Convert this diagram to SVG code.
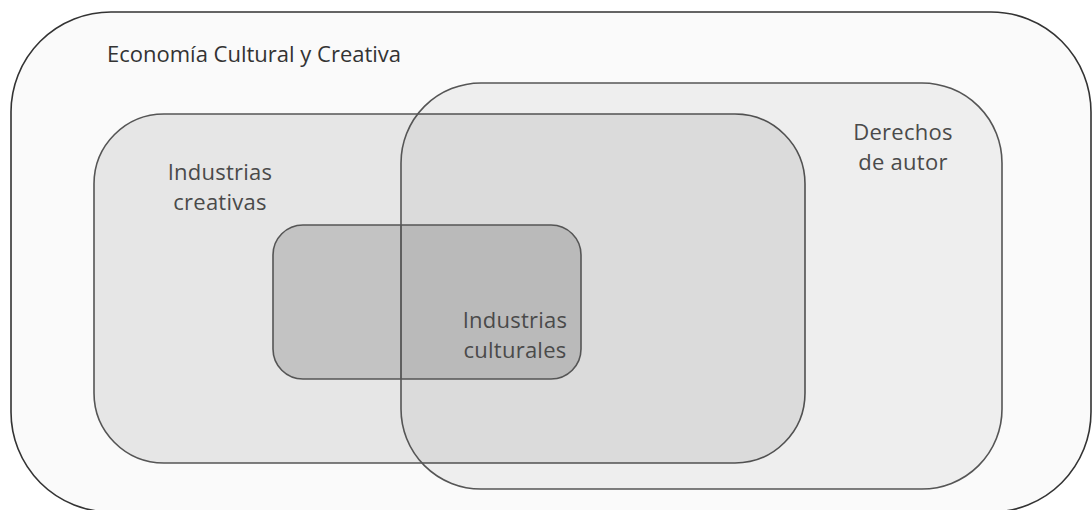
<svg xmlns="http://www.w3.org/2000/svg" width="1092" height="510" viewBox="0 0 1092 510">
<style>
.lbl{font-family:"Open Sans","Noto Sans","DejaVu Sans",sans-serif;font-size:22px;letter-spacing:0.25px;fill:#4a4a4a;text-anchor:middle}
.ttl{font-family:"Open Sans","Noto Sans","DejaVu Sans",sans-serif;font-size:22px;fill:#333}
.box{stroke:#555;stroke-width:1.6}
</style>
<rect width="1092" height="510" fill="#ffffff"/>
<g id="economia">
<rect x="11" y="12" width="1080" height="500" rx="100" ry="100" fill="#fafafa" stroke="#333" stroke-width="1.6"/>
<text class="ttl" x="107" y="62">Economía Cultural y Creativa</text>
</g>
<g id="creativas">
<rect class="box" x="94" y="114" width="711" height="349" rx="70" ry="70" fill="#000" fill-opacity="0.08"/>
<text class="lbl" x="220" y="180">Industrias</text>
<text class="lbl" x="220" y="210">creativas</text>
</g>
<g id="derechos">
<rect class="box" x="401" y="83" width="601" height="406" rx="80" ry="80" fill="#000" fill-opacity="0.048"/>
<text class="lbl" x="903" y="140">Derechos</text>
<text class="lbl" x="903" y="170">de autor</text>
</g>
<g id="culturales">
<rect class="box" x="273" y="225" width="308" height="154" rx="30" ry="30" fill="#000" fill-opacity="0.148"/>
<text class="lbl" x="515" y="328">Industrias</text>
<text class="lbl" x="515" y="358">culturales</text>
</g>
<g id="connectors"/>
</svg>
